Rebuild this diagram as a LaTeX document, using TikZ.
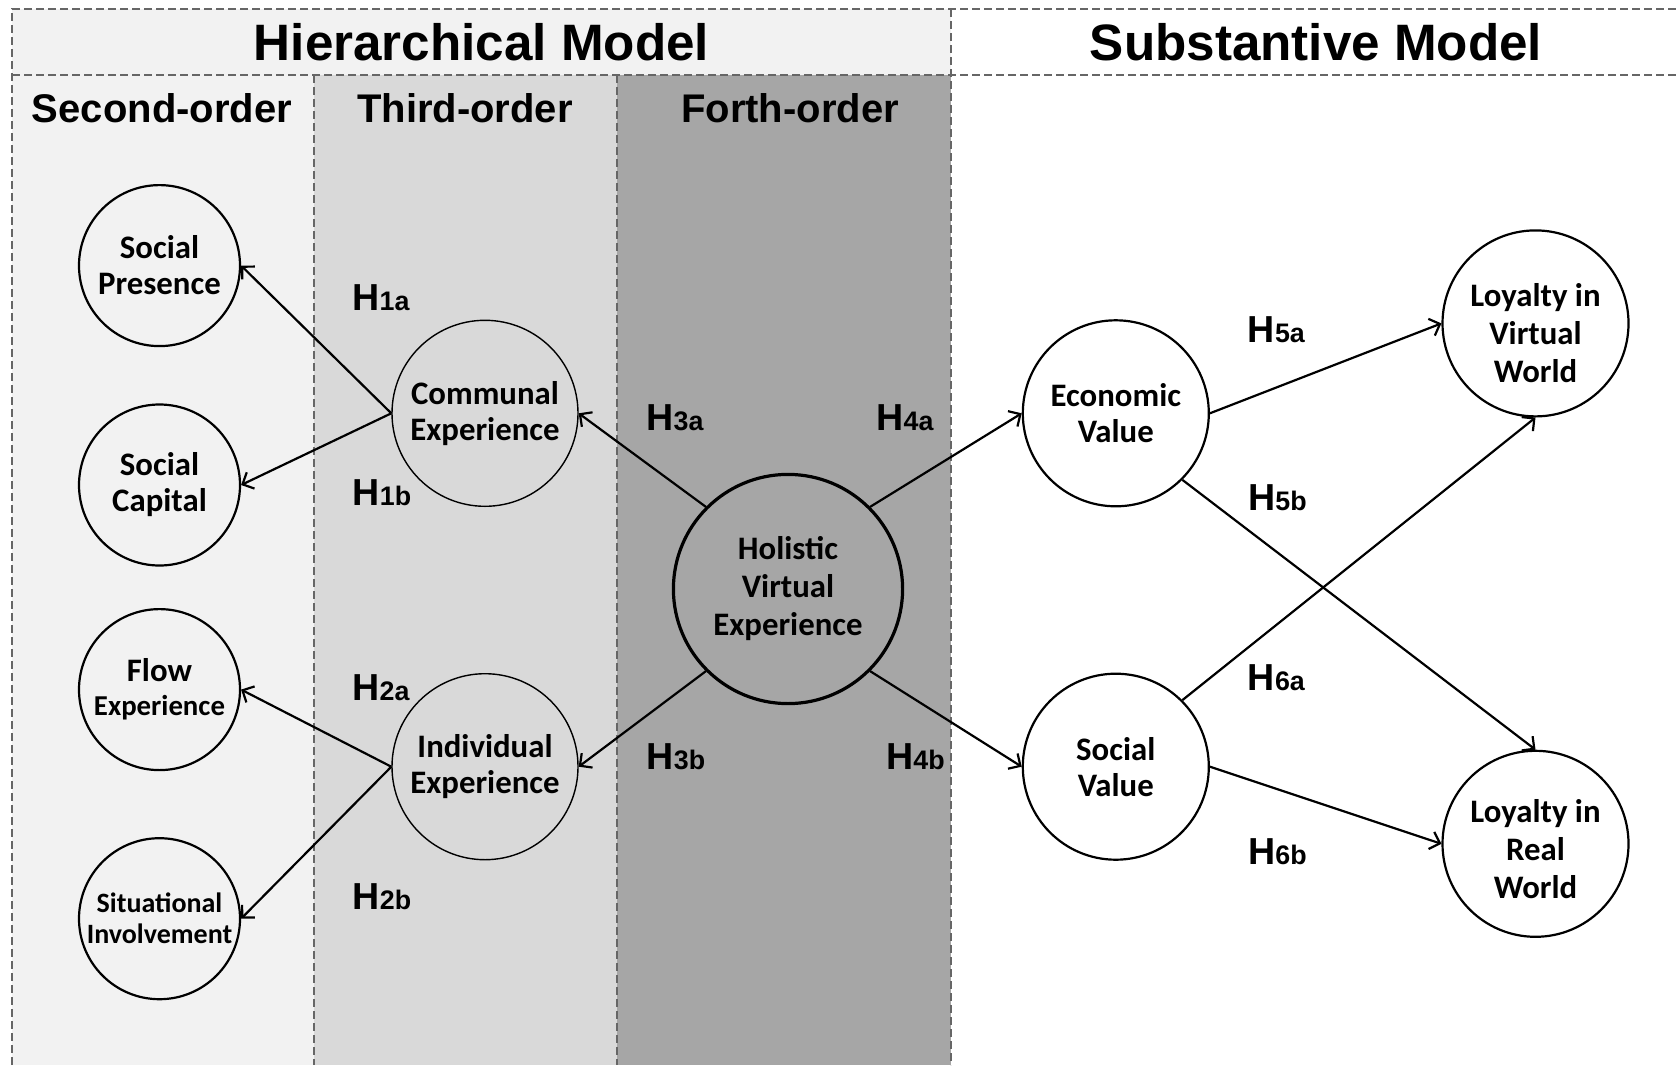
\documentclass[tikz,border=0pt]{standalone}
\usepackage{fontspec}
\setmainfont{Carlito}
\newfontfamily\arialf{Liberation Sans}
\usetikzlibrary{arrows.meta}
\definecolor{colA}{HTML}{F2F2F2}
\definecolor{colB}{HTML}{D9D9D9}
\definecolor{colC}{HTML}{A6A6A6}
\definecolor{dashc}{HTML}{666666}
\begin{document}
\begin{tikzpicture}[x=0.5pt,y=-0.5pt,
  dl/.style={draw=dashc, line width=0.7pt, dash pattern=on 4pt off 2pt},
  lat/.style={circle, draw=black, line width=1.1pt, inner sep=0pt, align=center,
    font=\fontsize{16.4}{18}\selectfont\bfseries},
  small/.style={lat, minimum size=80.5pt},
  mid/.style={lat, minimum size=93pt},
  thin/.style={mid, line width=0.7pt},
  big/.style={lat, minimum size=114.6pt, line width=1.6pt,
    font=\fontsize{16.4}{19}\selectfont\bfseries},
  loy/.style={mid, font=\fontsize{16.4}{19}\selectfont\bfseries},
  arr/.style={line width=1.1pt, -{Straight Barb[length=4.5pt,width=9pt]}},
  hl/.style={inner sep=0pt, font=\arialf\bfseries},
  hd/.style={inner sep=0pt, font=\arialf\bfseries\fontsize{25.6}{28}\selectfont},
  sh/.style={inner sep=0pt, font=\arialf\bfseries\fontsize{20}{22}\selectfont}
]
\useasboundingbox (0,0) rectangle (1679,1065);
% backgrounds
\fill[colA] (12,9) rectangle (951,1065);
\fill[colB] (314,75) rectangle (617,1065);
\fill[colC] (617,75) rectangle (951,1065);
% dashed frame
\draw[dl] (12,1065) -- (12,9) -- (1679,9);
\draw[dl] (12,75) -- (1679,75);
\draw[dl] (314,75) -- (314,1065);
\draw[dl] (617,75) -- (617,1065);
\draw[dl] (951,9) -- (951,1065);
% headers
\node[hd] (hh) at (481.5,42) {Hierarchical Model};
\node[hd] (hs) at (1316,42) {Substantive Model};
\node[sh] (s2) at (162,108) {Second-order};
\node[sh] (s3) at (465,108) {Third-order};
\node[sh] (s4) at (790,108) {Forth-order};
% nodes
\node[small] (sp) at (159.5,265.6) {Social\\Presence};
\node[small] (sc) at (159.5,485) {Social\\Capital};
\node[small] (fe) at (159.5,689.6) {Flow\\[-1pt]{\fontsize{14.4}{16}\selectfont Experience}};
\node[small, font=\fontsize{14}{15.5}\selectfont\bfseries] (si) at (159.5,918.7) {Situational\\Involvement};
\node[thin] (ce) at (485,413.3) {Communal\\Experience};
\node[thin] (ie) at (485,766.7) {Individual\\Experience};
\node[big] (hv) at (788,589) {Holistic\\Virtual\\Experience};
\node[mid] (ev) at (1115.8,413.3) {Economic\\Value};
\node[mid] (sv) at (1115.8,766.7) {Social\\Value};
\node[loy] (lv) at (1535.5,323.4) {\rule{0pt}{21.5pt}Loyalty in\\Virtual\\World};
\node[loy] (lr) at (1535.5,843.8) {\rule{0pt}{17pt}Loyalty in\\Real\\World};
% connectors
\draw[arr] (ce.west) -- (sp.east);
\draw[arr] (ce.west) -- (sc.east);
\draw[arr] (ie.west) -- (fe.east);
\draw[arr] (ie.west) -- (si.east);
\draw[arr] (hv.135) -- (ce.east);
\draw[arr] (hv.225) -- (ie.east);
\draw[arr] (hv.45) -- (ev.west);
\draw[arr] (hv.-45) -- (sv.west);
\draw[arr] (ev.east) -- (lv.west);
\draw[arr] (ev.-45) -- (lr.north);
\draw[arr] (sv.45) -- (lv.south);
\draw[arr] (sv.east) -- (lr.west);
% hypothesis labels
\newcommand{\hyp}[1]{{\fontsize{18.8}{20}\selectfont H}{\fontsize{13.4}{15}\selectfont #1}}
\node[hl] (h1a) at (381,298) {\hyp{1a}};
\node[hl] (h1b) at (382,493) {\hyp{1b}};
\node[hl] (h2a) at (381,687.5) {\hyp{2a}};
\node[hl] (h2b) at (382,897) {\hyp{2b}};
\node[hl] (h3a) at (675,417.6) {\hyp{3a}};
\node[hl] (h3b) at (676,757) {\hyp{3b}};
\node[hl] (h4a) at (905,417.6) {\hyp{4a}};
\node[hl] (h4b) at (915.5,757) {\hyp{4b}};
\node[hl] (h5a) at (1276.4,329.8) {\hyp{5a}};
\node[hl] (h5b) at (1277.5,498) {\hyp{5b}};
\node[hl] (h6a) at (1276.4,677.8) {\hyp{6a}};
\node[hl] (h6b) at (1277.5,851.3) {\hyp{6b}};
\end{tikzpicture}
\end{document}
